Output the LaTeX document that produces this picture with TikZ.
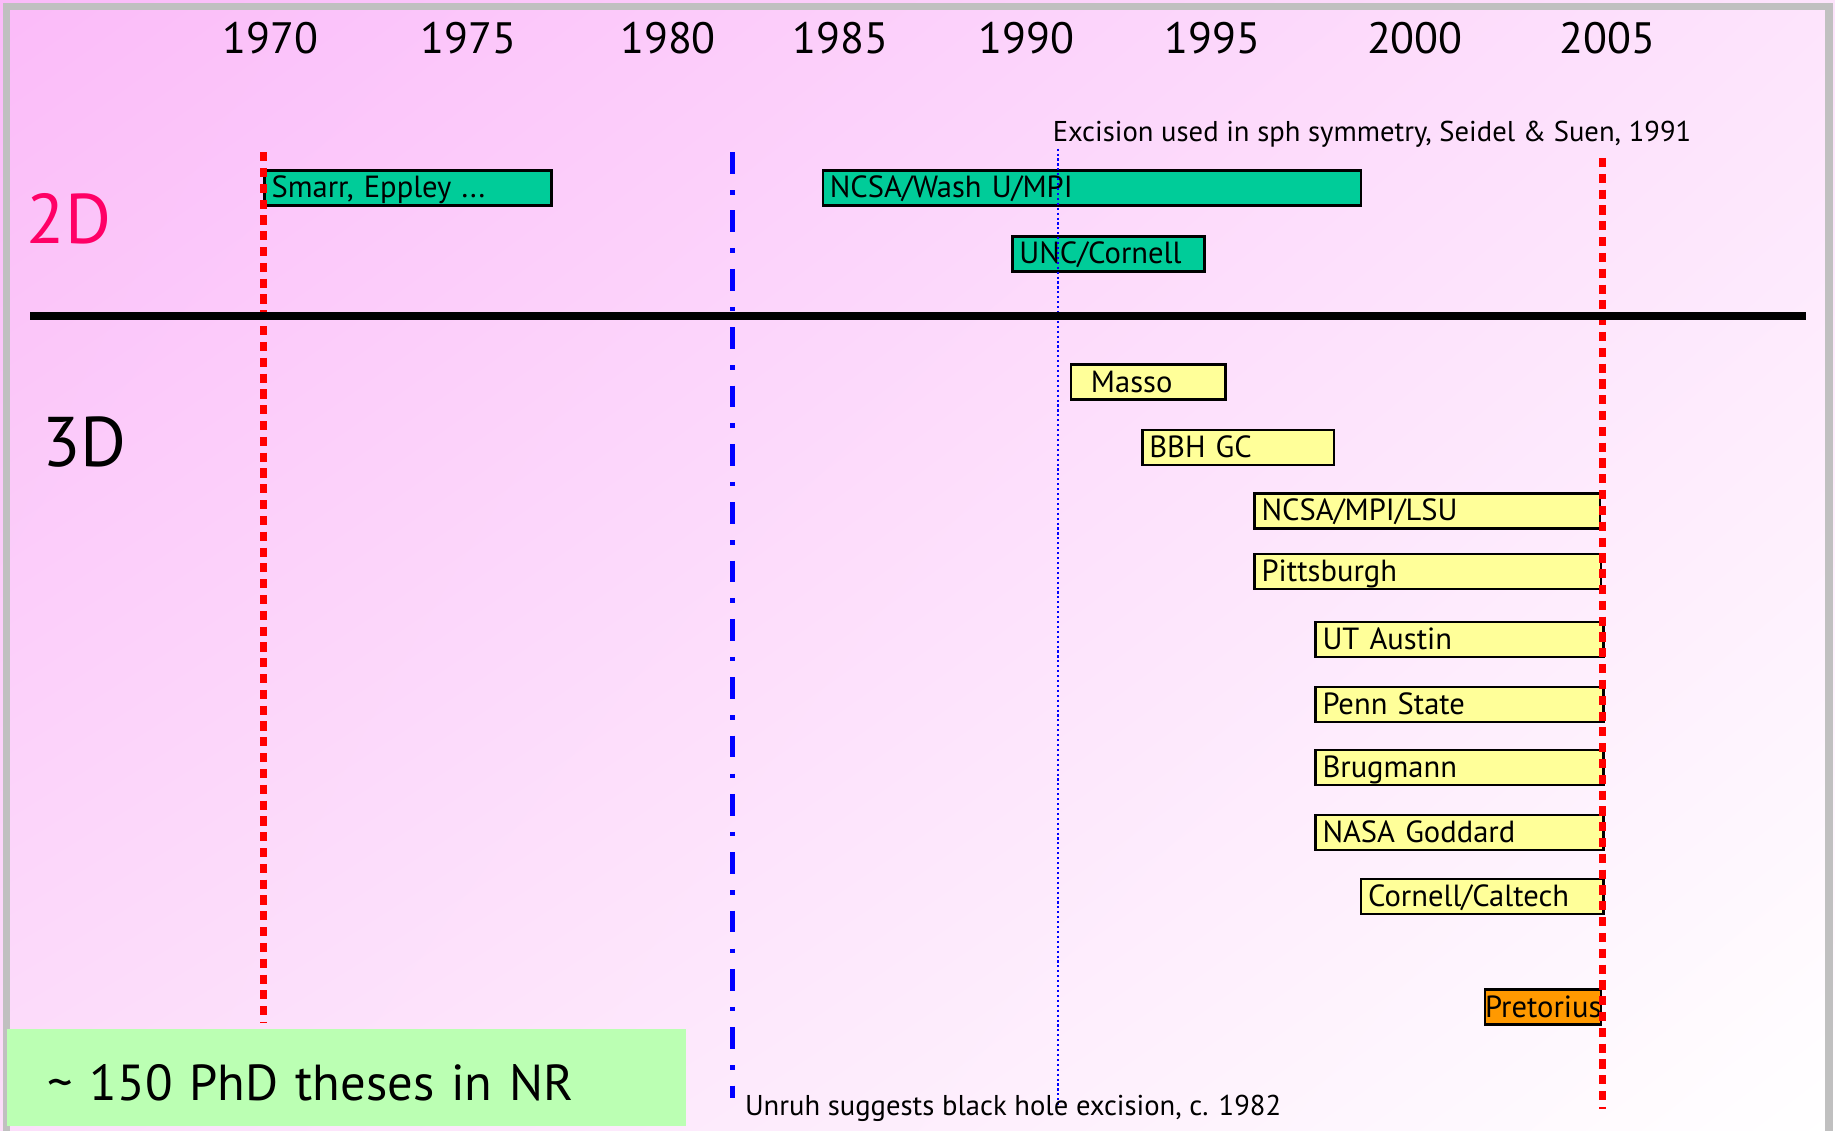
\documentclass[tikz,border=0pt]{standalone}
\usepackage{fontspec}
\setmainfont{PT Sans}
\usetikzlibrary{positioning,shadings}

\definecolor{bgpink}{RGB}{251,187,249}
\definecolor{bgmid}{RGB}{253,228,252}
\definecolor{bglow}{RGB}{252,222,250}
\definecolor{framegray}{RGB}{192,192,192}
\definecolor{barteal}{RGB}{0,204,153}
\definecolor{baryellow}{RGB}{255,255,153}
\definecolor{barorange}{RGB}{255,153,0}
\definecolor{notegreen}{RGB}{187,255,179}
\definecolor{twod}{RGB}{255,0,102}

\begin{document}
\begin{tikzpicture}[x=0.11703mm, y=-0.11703mm,
    bar/.style={draw=black, line width=0.7pt, anchor=west, inner xsep=2pt, inner ysep=0pt,
      minimum height=3.5mm, text height=2.3mm, text depth=0.3mm, align=left,
      font=\fontsize{8.7}{10}\selectfont},
    year/.style={font=\fontsize{12.5}{14}\selectfont},
    note/.style={anchor=base west, inner sep=0pt, font=\fontsize{8.15}{10}\selectfont},
    dim/.style={font=\fontsize{20}{24}\selectfont},
    epoch/.style={red, line width=2pt, dash pattern=on 2.6pt off 1.9pt},
    unruh/.style={blue, line width=1.3pt, dash pattern=on 6.2pt off 4.6pt on 1.3pt off 4.5pt},
    seidel/.style={blue, line width=0.6pt, dash pattern=on 0.6pt off 0.8pt},
    phdbox/.style={fill=notegreen, anchor=north west, minimum width=67.9mm, minimum height=9.7mm,
      inner xsep=4.1mm, text width=59.7mm, align=left, text height=4.5mm, text depth=0pt,
      font=\fontsize{14.4}{17}\selectfont}]
  \useasboundingbox (0,0) rectangle (1568,966);
  \shade[upper left=bgpink, upper right=bgmid, lower left=bglow, lower right=white] (0,0) rectangle (1568,966);
  \draw[framegray, line width=2.1pt] (5.7,5.7) rectangle (1563,970);

  \foreach \x/\yr in {231/1970, 400.6/1975, 570.8/1980, 718/1985, 877.3/1990, 1036/1995, 1209/2000, 1373.7/2005}
    \node[year] (y\yr) at (\x,32.6) {\yr};

  \node[dim, text=twod] (twoD) at (59,187) {2D};
  \node[dim] (threeD) at (72,378) {3D};

  % 2D groups
  \foreach \a/\b/\y/\n/\t in {225/470/160.5/smarr/{Smarr, Eppley ...}, 702/1162/160.5/wash/{NCSA/Wash U/MPI},
      864/1028/217/unc/{UNC/Cornell}}{
    \pgfmathsetlengthmacro\w{(\b-\a)*0.11703mm-4pt}
    \node[bar, fill=barteal, text width=\w] (\n) at (\a,\y) {\t};
  }
  % 3D groups
  \foreach \a/\b/\y/\n/\t in {914/1046/326.5/masso/{\hspace{1.3mm}Masso}, 975/1139/382.5/bbh/{BBH GC},
      1071/1366/436.5/lsu/{NCSA/MPI/LSU}, 1071/1367/488.5/pitt/Pittsburgh,
      1123/1369/546.5/austin/{UT Austin}, 1123/1369/602/penn/{Penn State},
      1123/1369/656/brug/Brugmann, 1123/1369/711.5/nasa/{NASA Goddard},
      1162/1369/766/caltech/{Cornell/Caltech}}{
    \pgfmathsetlengthmacro\w{(\b-\a)*0.11703mm-4pt}
    \node[bar, fill=baryellow, text width=\w] (\n) at (\a,\y) {\t};
  }
  \node[bar, fill=barorange, inner xsep=0pt, text width=11.6mm] (pretorius) at (1268,860.5) {Pretorius};

  \draw[epoch] (225,130) -- (225,874);
  \draw[epoch] (1369,135) -- (1369,948);
  \draw[unruh] (626,130) -- (626,938);
  \draw[seidel] (904,127) -- (904,944);
  \draw[black, line width=2.3pt] (26,270) -- (1543,270);

  \node[note] (seideltxt) at (899,121) {Excision used in sph symmetry, Seidel \& Suen, 1991};
  \node[note] (unruhtxt) at (636,953) {Unruh suggests black hole excision, c. 1982};

  \node[phdbox] (phd) at (5,879) {\textasciitilde{} 150 PhD theses in NR};
\end{tikzpicture}
\end{document}
